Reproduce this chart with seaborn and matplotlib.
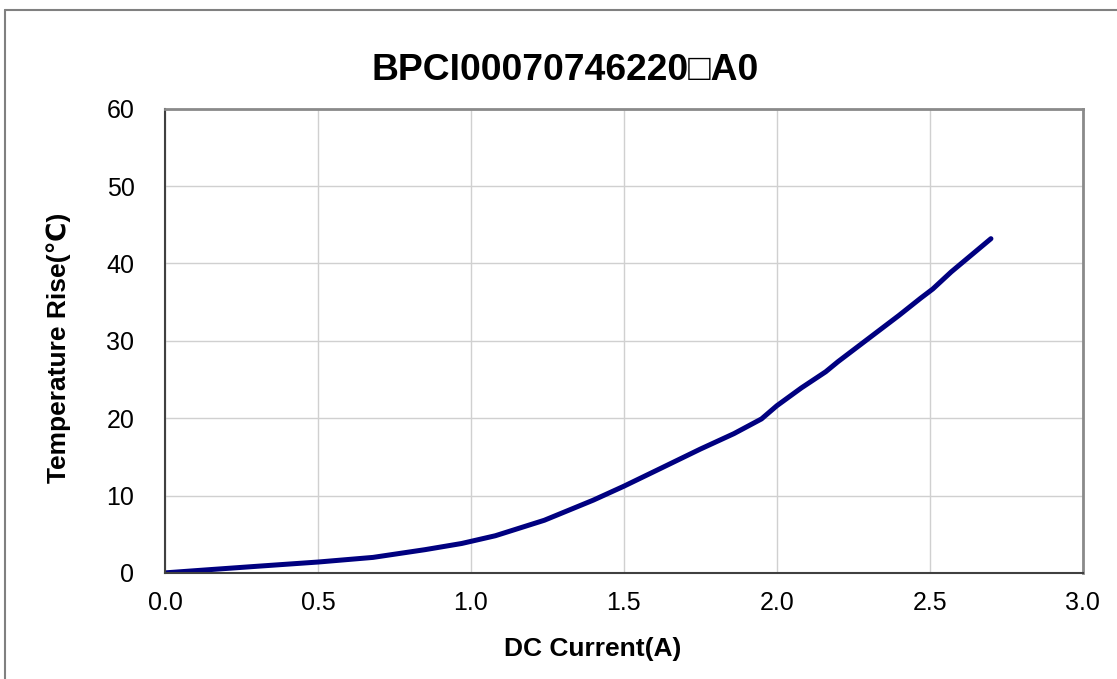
import seaborn as sns
import pandas as pd
import matplotlib.pyplot as plt
from matplotlib.lines import Line2D

title = "BPCI00070746220\u25a1A0"
current = [0.0, 0.14, 0.30, 0.50, 0.68, 0.85, 0.97, 1.08, 1.24, 1.40, 1.50,
           1.62, 1.75, 1.86, 1.95, 2.00, 2.08, 2.16, 2.20, 2.29, 2.40, 2.47, 2.51, 2.57, 2.70]
temp_rise = [0.0, 0.4, 0.85, 1.4, 2.0, 3.0, 3.8, 4.8, 6.8, 9.4, 11.2,
             13.5, 16.0, 18.0, 19.9, 21.6, 23.9, 26.0, 27.3, 30.0, 33.3, 35.5, 36.7, 38.9, 43.2]
x_ticks = [0.0, 0.5, 1.0, 1.5, 2.0, 2.5, 3.0]
y_ticks = [0, 10, 20, 30, 40, 50, 60]

sns.set_style("white")
plt.rcParams['font.family'] = ['Liberation Sans', 'DejaVu Sans']
plt.rcParams['text.color'] = 'black'

df = pd.DataFrame({"current": current, "temp": temp_rise})

fig = plt.figure(figsize=(11.17, 6.79), dpi=100)
ax = fig.add_axes([0.1477, 0.1563, 0.9693 - 0.1477, 0.8399 - 0.1563])

sns.lineplot(data=df, x="current", y="temp", ax=ax, color="#000080",
             linewidth=3.6, solid_capstyle="round", solid_joinstyle="round", sort=False)

ax.set_xlim(0, 3.0)
ax.set_ylim(0, 60)
ax.set_xticks(x_ticks)
ax.set_xticklabels([f"{v:.1f}" for v in x_ticks])
ax.set_yticks(y_ticks)
ax.set_yticklabels([str(v) for v in y_ticks])
ax.grid(True, color="#d0d0d0", linewidth=1.0)
ax.set_axisbelow(True)

ax.tick_params(axis="both", direction="in", length=6, width=1.2, color="#404040",
               labelsize=18, labelcolor="black")
ax.tick_params(axis="y", pad=22)
ax.tick_params(axis="x", pad=13)

for side in ["left", "bottom"]:
    ax.spines[side].set_color("#404040")
    ax.spines[side].set_linewidth(1.5)
for side in ["top", "right"]:
    ax.spines[side].set_color("#8a8a8a")
    ax.spines[side].set_linewidth(2.0)
    ax.spines[side].set_visible(True)

ax.set_xlabel("")
ax.set_ylabel("")
fig.text(593 / 1117, 1 - 649 / 679, "DC Current(A)", ha="center", va="center",
         fontsize=19, fontweight="bold", color="black")
fig.text(59 / 1117, 1 - 348 / 679, "Temperature Rise(\u2103)", ha="center", va="center",
         rotation=90, fontsize=19, fontweight="bold", color="black")
fig.text(565 / 1117, 1 - 70 / 679, title, ha="center", va="center",
         fontsize=26.8, fontweight="bold", color="black")

# outer chart border
x0 = 5 / 1117
y0 = 1 - 10 / 679
fig.add_artist(Line2D([x0, x0], [0, y0], transform=fig.transFigure, color="#808080", linewidth=1.5))
fig.add_artist(Line2D([x0, 1], [y0, y0], transform=fig.transFigure, color="#808080", linewidth=1.5))

fig.savefig("out.png", dpi=100)
